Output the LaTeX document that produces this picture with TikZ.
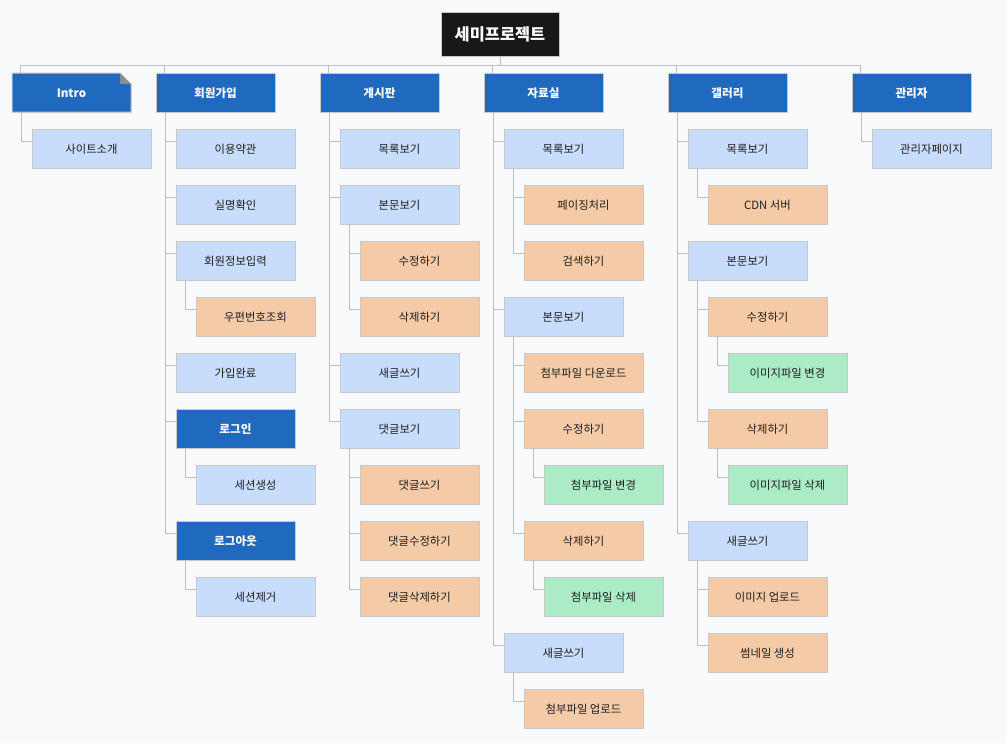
\documentclass[tikz,border=0pt]{standalone}
\usepackage{fontspec}
\setmainfont{Noto Sans CJK KR}
\usetikzlibrary{calc,shadows}
\definecolor{bgc}{HTML}{F8F9FB}
\definecolor{rootc}{HTML}{181818}
\definecolor{bluec}{HTML}{1F69BE}
\definecolor{lbluec}{HTML}{C8DCFB}
\definecolor{orangec}{HTML}{F5CBA7}
\definecolor{greenc}{HTML}{ABEBC6}
\definecolor{borderc}{HTML}{C8C8C8}
\definecolor{linec}{HTML}{BFBFBF}
\definecolor{foldc}{HTML}{8C8C8C}
\definecolor{txtc}{HTML}{1E1E1E}
\tikzset{
  basebox/.style={draw=borderc, line width=0.75pt, inner sep=0pt, outer sep=0pt,
    minimum width=89.25pt, minimum height=29.25pt, anchor=north west,
    text height=8.2pt, text depth=0.6pt,
    drop shadow={shadow xshift=0.5pt, shadow yshift=-0.7pt, opacity=0.10, fill=black}},
  rootbox/.style={basebox, fill=rootc, text=white, minimum width=88.5pt, minimum height=33pt,
    anchor=center, text height=11pt, text depth=1pt, font=\fontsize{12.3}{14}\selectfont\bfseries},
  bluebox/.style={basebox, fill=bluec, text=white, font=\fontsize{8.7}{10}\selectfont\bfseries},
  lbbox/.style={basebox, fill=lbluec, text=txtc, font=\fontsize{8.5}{10}\selectfont},
  orbox/.style={basebox, fill=orangec, text=txtc, font=\fontsize{8.5}{10}\selectfont},
  grbox/.style={basebox, fill=greenc, text=txtc, font=\fontsize{8.5}{10}\selectfont},
  conn/.style={draw=linec, line width=0.75pt},
}
\newcommand{\bx}[5]{\node[#1] (#2) at (#3,{73+56*#4}) {#5};}
\newcommand{\cn}[2]{\draw[conn] ($(#1.south west)+(9,0)$) |- ($(#2.north west)+(0,12)$);}
\newcommand{\dropc}[1]{\draw[conn] ([xshift=6pt]#1.north west) -- ([xshift=6pt]#1.north west |- busL);}
\begin{document}
\begin{tikzpicture}[x=0.75pt,y=-0.75pt]
\useasboundingbox (0,0) rectangle (1007,743);
\fill[bgc] (0,0) rectangle (1007,743);
% bus
\coordinate (busL) at (20,65);
\coordinate (busR) at (860,65);
\draw[conn] (busL) -- (busR);
\node[rootbox] (root) at (500,34) {세미프로젝트};
\draw[conn] (root.south) -- (root.south |- busL);
% Intro (custom shape with folded corner)
\node[inner sep=0pt, outer sep=0pt, minimum width=89.25pt, minimum height=29.25pt,
  anchor=north west] (i0) at (12,73) {};
\fill[black, opacity=0.10] ($(i0.north west)+(0.7,1)$) -- ($(i0.north east)+(-10.3,1)$) -- ($(i0.north east)+(0.7,12)$) -- ($(i0.south east)+(0.7,1)$) -- ($(i0.south west)+(0.7,1)$) -- cycle;
\filldraw[fill=bluec, draw=borderc, line width=0.75pt] (i0.north west) -- ($(i0.north east)+(-11,0)$) -- ($(i0.north east)+(0,11)$) -- (i0.south east) -- (i0.south west) -- cycle;
\fill[foldc] ($(i0.north east)+(-11,0)$) -- ($(i0.north east)+(-11,11)$) -- ($(i0.north east)+(0,11)$) -- cycle;
\node[text=white, inner sep=0pt, text height=8.2pt, text depth=0.6pt, font=\fontsize{8.7}{10}\selectfont\bfseries] (i0t) at (i0.center) {Intro};
% level-1
\bx{bluebox}{m0}{156}{0}{회원가입}
\bx{bluebox}{b0}{320}{0}{게시판}
\bx{bluebox}{d0}{484}{0}{자료실}
\bx{bluebox}{g0}{668}{0}{갤러리}
\bx{bluebox}{a0}{852}{0}{관리자}
\dropc{i0}\dropc{m0}\dropc{b0}\dropc{d0}\dropc{g0}\dropc{a0}
% Intro
\bx{lbbox}{i1}{32}{1}{사이트소개}
\cn{i0}{i1}
% 회원가입
\bx{lbbox}{m1}{176}{1}{이용약관}
\bx{lbbox}{m2}{176}{2}{실명확인}
\bx{lbbox}{m3}{176}{3}{회원정보입력}
\bx{orbox}{m4}{196}{4}{우편번호조회}
\bx{lbbox}{m5}{176}{5}{가입완료}
\bx{bluebox}{m6}{176}{6}{로그인}
\bx{lbbox}{m7}{196}{7}{세션생성}
\bx{bluebox}{m8}{176}{8}{로그아웃}
\bx{lbbox}{m9}{196}{9}{세션제거}
\cn{m0}{m1}\cn{m0}{m2}\cn{m0}{m3}\cn{m0}{m5}\cn{m0}{m6}\cn{m0}{m8}
\cn{m3}{m4}\cn{m6}{m7}\cn{m8}{m9}
% 게시판
\bx{lbbox}{b1}{340}{1}{목록보기}
\bx{lbbox}{b2}{340}{2}{본문보기}
\bx{orbox}{b3}{360}{3}{수정하기}
\bx{orbox}{b4}{360}{4}{삭제하기}
\bx{lbbox}{b5}{340}{5}{새글쓰기}
\bx{lbbox}{b6}{340}{6}{댓글보기}
\bx{orbox}{b7}{360}{7}{댓글쓰기}
\bx{orbox}{b8}{360}{8}{댓글수정하기}
\bx{orbox}{b9}{360}{9}{댓글삭제하기}
\cn{b0}{b1}\cn{b0}{b2}\cn{b0}{b5}\cn{b0}{b6}
\cn{b2}{b3}\cn{b2}{b4}
\cn{b6}{b7}\cn{b6}{b8}\cn{b6}{b9}
% 자료실
\bx{lbbox}{d1}{504}{1}{목록보기}
\bx{orbox}{d2}{524}{2}{페이징처리}
\bx{orbox}{d3}{524}{3}{검색하기}
\bx{lbbox}{d4}{504}{4}{본문보기}
\bx{orbox}{d5}{524}{5}{첨부파일 다운로드}
\bx{orbox}{d6}{524}{6}{수정하기}
\bx{grbox}{d7}{544}{7}{첨부파일 변경}
\bx{orbox}{d8}{524}{8}{삭제하기}
\bx{grbox}{d9}{544}{9}{첨부파일 삭제}
\bx{lbbox}{d10}{504}{10}{새글쓰기}
\bx{orbox}{d11}{524}{11}{첨부파일 업로드}
\cn{d0}{d1}\cn{d0}{d4}\cn{d0}{d10}
\cn{d1}{d2}\cn{d1}{d3}
\cn{d4}{d5}\cn{d4}{d6}\cn{d4}{d8}
\cn{d6}{d7}\cn{d8}{d9}
\cn{d10}{d11}
% 갤러리
\bx{lbbox}{g1}{688}{1}{목록보기}
\bx{orbox}{g2}{708}{2}{CDN 서버}
\bx{lbbox}{g3}{688}{3}{본문보기}
\bx{orbox}{g4}{708}{4}{수정하기}
\bx{grbox}{g5}{728}{5}{이미지파일 변경}
\bx{orbox}{g6}{708}{6}{삭제하기}
\bx{grbox}{g7}{728}{7}{이미지파일 삭제}
\bx{lbbox}{g8}{688}{8}{새글쓰기}
\bx{orbox}{g9}{708}{9}{이미지 업로드}
\bx{orbox}{g10}{708}{10}{썸네일 생성}
\cn{g0}{g1}\cn{g0}{g3}\cn{g0}{g8}
\cn{g1}{g2}
\cn{g3}{g4}\cn{g3}{g6}
\cn{g4}{g5}\cn{g6}{g7}
\cn{g8}{g9}\cn{g8}{g10}
% 관리자
\bx{lbbox}{a1}{872}{1}{관리자페이지}
\cn{a0}{a1}
\end{tikzpicture}
\end{document}
